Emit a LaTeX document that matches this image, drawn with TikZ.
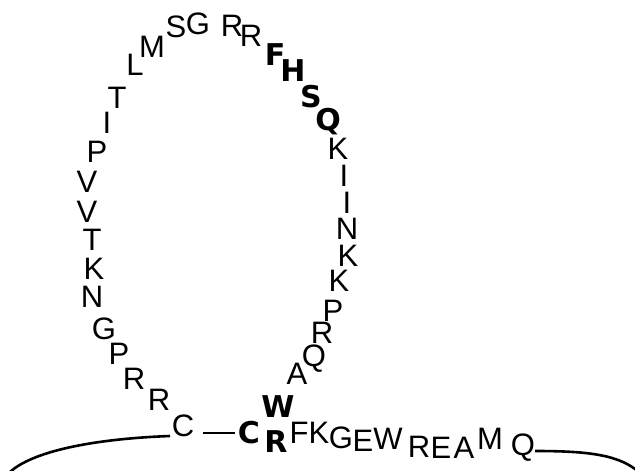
\documentclass[tikz,border=0pt]{standalone}
\usepackage{fontspec}
\setmainfont{Liberation Sans}
\newfontfamily\boldfam{DejaVu Sans}
\tikzset{
  aa/.style={font=\fontsize{31}{32}\selectfont, inner sep=0pt, text height=22.2pt, text depth=0pt, anchor=center},
  bb/.style={aa, font=\boldfam\fontsize{30}{32}\selectfont\bfseries},
  mem/.style={line width=2.6pt},
}
\begin{document}
\begin{tikzpicture}[x=1pt,y=-1pt]
\useasboundingbox (0,0) rectangle (635,471);
% left arm and top
\node[aa] (c1) at (183,425) {C};
\node[aa] (r1) at (159,399) {R};
\node[aa] (r2) at (134,378) {R};
\node[aa] (p1) at (119,353) {P};
\node[aa] (g1) at (104,328) {G};
\node[aa] (n1) at (92,296) {N};
\node[aa] (k1) at (94,268) {K};
\node[aa] (t1) at (92,239) {T};
\node[aa] (v1) at (87,211) {V};
\node[aa] (v2) at (87,181) {V};
\node[aa] (p2) at (97,151) {P};
\node[aa] (i1) at (107,122) {I};
\node[aa] (t2) at (117,97) {T};
\node[aa] (l1) at (135,64) {L};
\node[aa] (m1) at (152,46) {M};
\node[aa] (s1) at (176,26) {S};
\node[aa] (g2) at (198,23) {G};
\node[aa] (r3) at (232,25) {R};
\node[aa] (r4) at (251,35) {R};
\node[bb] (f1) at (275,54) {F};
\node[bb] (h1) at (293,70) {H};
\node[bb] (s2) at (311,96) {S};
\node[bb] (q1) at (328,119) {Q};
% right arm
\node[aa] (k2) at (338,148) {K};
\node[aa] (i2) at (344,175) {I};
\node[aa] (i3) at (347,202) {I};
\node[aa] (n2) at (347,228) {N};
\node[aa] (k3) at (348,255) {K};
\node[aa] (k4) at (339,280) {K};
\node[aa] (p3) at (333,310) {P};
\node[aa] (r5) at (322,332) {R};
\node[aa] (q2) at (314,355) {Q};
\node[aa] (a1) at (297,373) {A};
\node[bb] (w1) at (278,406) {W};
% bottom row
\node[bb] (c2) at (249,432) {C};
\node[bb] (r6) at (276,441) {R};
\node[aa] (f2) at (299,432) {F};
\node[aa] (k5) at (319,432) {K};
\node[aa] (g3) at (341,437) {G};
\node[aa] (e1) at (363,440) {E};
\node[aa] (w2) at (388,438) {W};
\node[aa] (r7) at (419,446) {R};
\node[aa] (e2) at (441,447) {E};
\node[aa] (a2) at (464,447) {A};
\node[aa] (m2) at (490,438) {M};
\node[aa] (q3) at (523,444) {Q};
% connectors
\coordinate (d1) at (203,433);
\coordinate (d2) at (235,433);
\draw[mem] (d1) -- (d2);
\coordinate (lend) at (170,436);
\coordinate (lfar) at (10,472);
\draw[mem] (lend) .. controls (90,439) and (32,452) .. (lfar);
\coordinate (rstart) at (535,451);
\coordinate (rfar) at (640,473);
\draw[mem] (rstart) .. controls (590,451) and (620,455) .. (rfar);
\end{tikzpicture}
\end{document}
